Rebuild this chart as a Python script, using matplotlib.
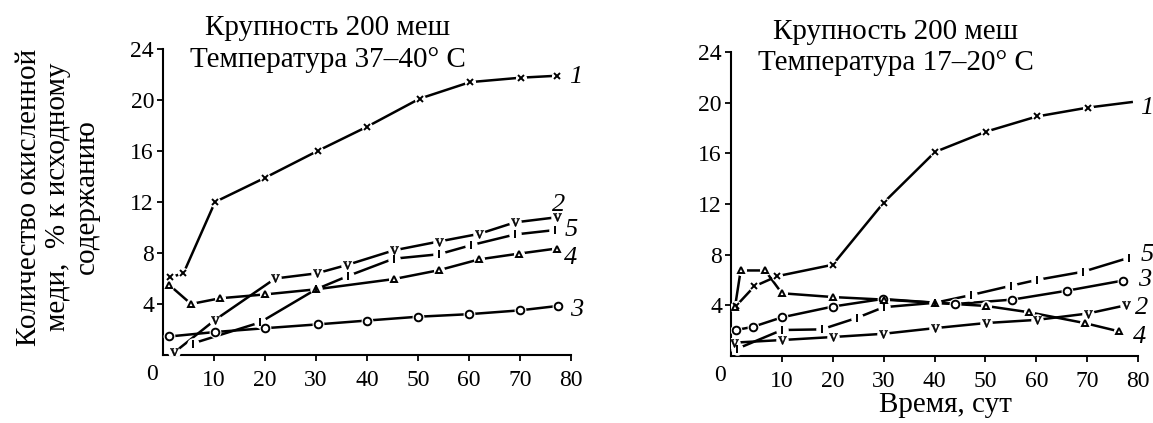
import matplotlib
matplotlib.use("Agg")
import matplotlib.pyplot as plt

# left panel, 37-40 C
hotX1 = [1.4, 4, 10.2, 20, 30.3, 40, 50.3, 60.2, 70.2, 77.2]
hotY1 = [6.1, 6.4, 12.0, 13.9, 16.0, 17.9, 20.1, 21.4, 21.75, 21.9]
hotX2 = [2.2, 10.2, 22, 30.1, 36, 45.2, 54.1, 62, 69, 77.2]
hotY2 = [0.2, 2.75, 6.0, 6.4, 7.05, 8.2, 8.9, 9.5, 10.4, 10.8]
hotX3 = [1.2, 10.2, 20, 30.3, 40, 50, 60, 70, 77.5]
hotY3 = [1.45, 1.8, 2.1, 2.4, 2.7, 3.0, 3.2, 3.5, 3.85]
hotX4 = [1.2, 5.5, 11.2, 20, 30, 45.2, 54.1, 62, 69.8, 77.2]
hotY4 = [5.5, 4.0, 4.45, 4.75, 5.15, 5.95, 6.65, 7.5, 7.95, 8.35]
hotX5 = [5.8, 19, 30, 36.3, 45.2, 54.1, 60.3, 69, 76.9]
hotY5 = [0.9, 2.55, 5.15, 6.2, 7.55, 7.9, 8.6, 9.45, 9.8]

# right panel, 17-20 C
coldX1 = [1, 4.6, 9.1, 20, 30, 40.1, 50.1, 60.1, 70.1, 79]
coldY1 = [3.95, 5.5, 6.3, 7.2, 12.1, 16.1, 17.7, 18.9, 19.6, 20.05]
coldX2 = [0.5, 10, 20.1, 29.9, 40.1, 50.1, 60.1, 70.1, 77.6]
coldY2 = [1.05, 1.26, 1.5, 1.75, 2.2, 2.6, 2.85, 3.35, 4.0]
coldX3 = [1, 4.3, 10, 20, 29.8, 44, 55.3, 66, 77]
coldY3 = [2.05, 2.3, 3.05, 3.9, 4.5, 4.1, 4.45, 5.15, 5.95]
coldX4 = [0.8, 1.9, 6.7, 10, 20.1, 30, 40.1, 50.1, 58.6, 69.5, 76.2]
coldY4 = [3.9, 6.75, 6.75, 4.95, 4.65, 4.45, 4.2, 3.95, 3.45, 2.6, 1.95]
coldX5 = [1.1, 10, 17.8, 24.7, 30, 40.1, 47.1, 55.1, 60.1, 69.2, 78.2]
coldY5 = [0.55, 2.05, 2.1, 3.0, 3.85, 4.2, 4.8, 5.55, 6.0, 6.65, 7.75]

xTicks = [10, 20, 30, 40, 50, 60, 70, 80]
yTicks = [4, 8, 12, 16, 20, 24]
curveNames = ["1", "2", "3", "4", "5"]
hotLabelPos = [(80.9, 21.8), (77.6, 11.8), (81.1, 3.5), (79.9, 7.6), (80.1, 9.8)]
coldLabelPos = [(81.8, 19.6), (80.8, 3.8), (81.4, 6.0), (80.3, 1.5), (81.8, 8.0)]

plt.rcParams["font.family"] = ["Liberation Serif", "DejaVu Serif"]
plt.rcParams["mathtext.fontset"] = "custom"
plt.rcParams["mathtext.rm"] = "Liberation Serif"

markers = ["x", "$\\mathrm{v}$", "o", "^", "|"]
markerSizes = [5, 6, 5.5, 5, 6]
markerFill = ["black", "black", "white", "white", "black"]


def drawCurve(ax, x, y, i, skipLast=False):
    every = list(range(len(x) - 1)) if skipLast else None
    ms = markerSizes[i]
    ax.plot(x, y, color="black", lw=1.8, solid_capstyle="butt", zorder=2)
    # small white patch behind each marker, the lines stop short of it
    ax.plot(x, y, ls="none", marker="o", ms=ms + 3, mfc="white", mec="none",
            markevery=every, zorder=3)
    mew = 0.4 if markers[i].startswith("$") else 1.4
    ax.plot(x, y, ls="none", marker=markers[i], ms=ms, mfc=markerFill[i], mec="black",
            mew=mew, markevery=every, zorder=4)


def setupAxes(ax):
    ax.set_xlim(0, 80)
    ax.set_ylim(0, 24)
    ax.spines["top"].set_visible(False)
    ax.spines["right"].set_visible(False)
    ax.spines["left"].set_linewidth(1.5)
    ax.spines["bottom"].set_linewidth(1.5)
    ax.set_xticks(xTicks)
    ax.set_yticks(yTicks)
    ax.tick_params(axis="x", direction="out", length=4, width=1.3, pad=7, labelsize=17)
    ax.tick_params(axis="y", direction="out", length=4.5, width=1.3, pad=2, labelsize=17)
    ax.text(-0.012, -0.03, "0", transform=ax.transAxes, ha="right", va="top", fontsize=17)


fig = plt.figure(figsize=(11.53, 4.23), dpi=100)
axHot = fig.add_axes([0.1414, 0.1608, 0.3538, 0.7234])
axCold = fig.add_axes([0.634, 0.1584, 0.353, 0.719])

hotX = [hotX1, hotX2, hotX3, hotX4, hotX5]
hotY = [hotY1, hotY2, hotY3, hotY4, hotY5]
coldX = [coldX1, coldX2, coldX3, coldX4, coldX5]
coldY = [coldY1, coldY2, coldY3, coldY4, coldY5]

for i in range(5):
    drawCurve(axHot, hotX[i], hotY[i], i)
    drawCurve(axCold, coldX[i], coldY[i], i, skipLast=(i == 0))
    axHot.text(hotLabelPos[i][0], hotLabelPos[i][1], curveNames[i], style="italic",
               fontsize=19, ha="center", va="center")
    axCold.text(coldLabelPos[i][0], coldLabelPos[i][1], curveNames[i], style="italic",
                fontsize=19, ha="center", va="center")

setupAxes(axHot)
setupAxes(axCold)

fig.text(328 / 1153, 1 - 28 / 423, "Крупность 200 меш", ha="center", va="center", fontsize=21)
fig.text(328 / 1153, 1 - 60 / 423, "Температура 37–40° С", ha="center", va="center", fontsize=21)
fig.text(896 / 1153, 1 - 32 / 423, "Крупность 200 меш", ha="center", va="center", fontsize=21)
fig.text(896 / 1153, 1 - 63 / 423, "Температура 17–20° С", ha="center", va="center", fontsize=21)

fig.text(58 / 1153, 1 - 197 / 423, "Количество окисленной\nмеди,  % к исходному\nсодержанию",
         rotation=90, ha="center", va="center", multialignment="center",
         fontsize=21, linespacing=1.15)
fig.text(945 / 1153, 1 - 405 / 423, "Время, сут", ha="center", va="center", fontsize=21)

fig.savefig("out.png", dpi=100)
